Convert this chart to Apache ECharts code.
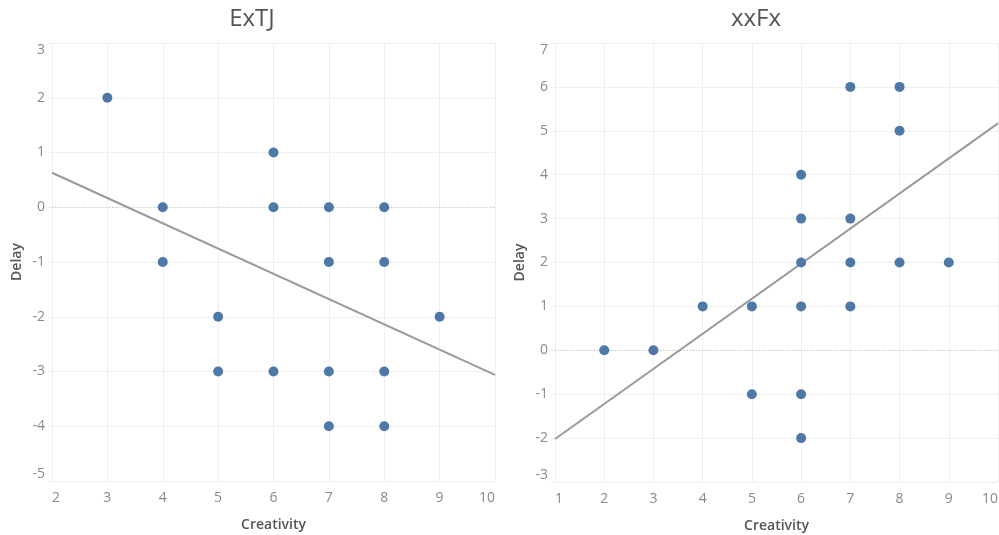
<!DOCTYPE html>
<html>
<head>
<meta charset="utf-8">
<script src="https://cdn.jsdelivr.net/npm/echarts@6/dist/echarts.min.js"></script>
<style>
html,body{margin:0;padding:0;background:#fff;}
#chart{width:999px;height:535px;}
</style>
</head>
<body>
<div id="chart"></div>
<script>
// ---- data ----
const panelTitles = ['ExTJ', 'xxFx'];
const xAxisName = 'Creativity';
const yAxisName = 'Delay';

// ExTJ panel: [Creativity, Delay]
const extjPoints = [
  [3, 2], [4, 0], [4, -1], [5, -2], [5, -3], [6, 1], [6, 0], [6, -3],
  [7, 0], [7, -1], [7, -3], [7, -4], [8, 0], [8, -1], [8, -3], [8, -4], [9, -2]
];
const extjTrend = [[2, 0.63], [10, -3.06]];

// xxFx panel: [Creativity, Delay]
const xxfxPoints = [
  [2, 0], [3, 0], [4, 1], [5, 1], [5, -1], [6, 4], [6, 3], [6, 2], [6, 1],
  [6, -1], [6, -2], [7, 6], [7, 3], [7, 2], [7, 1], [8, 6], [8, 5], [8, 2], [9, 2]
];
const xxfxTrend = [[1, -2.02], [10, 5.17]];

// axis ranges
const extjX = [2, 10];
const extjY = [-5, 3];
const xxfxX = [1, 10];
const xxfxY = [-3, 7];

// ---- chart ----
const FONT = '"Open Sans", sans-serif';
const gridColor = '#efefef';
const labelColor = '#8a8a8a';
const dotColor = '#4e79a7';

function xAxisCfg(gi, range) {
  return {
    type: 'value', gridIndex: gi, min: range[0], max: range[1], interval: 1,
    name: xAxisName, nameLocation: 'middle', nameGap: 37,
    nameTextStyle: {fontFamily: FONT, fontSize: 14, fontWeight: 600, color: '#555'},
    axisLine: {show: false},
    axisTick: {show: true, length: 5, lineStyle: {color: gridColor}},
    splitLine: {show: true, lineStyle: {color: gridColor, width: 1}},
    axisLabel: {fontFamily: FONT, fontSize: 14, color: labelColor, margin: 10,
      alignMinLabel: 'left', alignMaxLabel: 'right'}
  };
}
function yAxisCfg(gi, range) {
  return {
    type: 'value', gridIndex: gi, min: range[0], max: range[1], interval: 1,
    name: yAxisName, nameLocation: 'middle', nameGap: 28,
    nameTextStyle: {fontFamily: FONT, fontSize: 14, fontWeight: 600, color: '#555'},
    axisLine: {show: false},
    axisTick: {show: true, length: 4, lineStyle: {color: gridColor}},
    splitLine: {show: true, lineStyle: {color: gridColor, width: 1}},
    axisLabel: {fontFamily: FONT, fontSize: 14, color: labelColor, margin: 7,
      verticalAlignMinLabel: 'bottom', verticalAlignMaxLabel: 'top'}
  };
}
function zeroSeries(gi, xr) {
  return {
    type: 'line', xAxisIndex: gi, yAxisIndex: gi, silent: true, symbol: 'none',
    data: [[xr[0], 0], [xr[1], 0]],
    lineStyle: {color: '#c8c8c8', type: [1, 2], width: 1}, z: 1
  };
}

const chart = echarts.init(document.getElementById('chart'), null, {renderer: 'canvas'});
chart.setOption({
  backgroundColor: '#fff',
  animation: false,
  title: [
    {text: panelTitles[0], left: 247, top: 2, textAlign: 'center',
      textStyle: {fontFamily: FONT, fontSize: 24, fontWeight: 'normal', color: '#555'}},
    {text: panelTitles[1], left: 751, top: 2, textAlign: 'center',
      textStyle: {fontFamily: FONT, fontSize: 24, fontWeight: 'normal', color: '#555'}}
  ],
  grid: [
    {left: 52, top: 43, width: 443, height: 438, containLabel: false, outerBoundsMode: 'none'},
    {left: 555, top: 43, width: 443, height: 439, containLabel: false, outerBoundsMode: 'none'}
  ],
  xAxis: [xAxisCfg(0, extjX), xAxisCfg(1, xxfxX)],
  yAxis: [yAxisCfg(0, extjY), yAxisCfg(1, xxfxY)],
  series: [
    zeroSeries(0, extjX),
    {type: 'line', xAxisIndex: 0, yAxisIndex: 0, data: extjTrend, symbol: 'none',
      lineStyle: {color: '#9a9a9a', width: 2}, z: 2},
    {type: 'scatter', xAxisIndex: 0, yAxisIndex: 0, data: extjPoints, symbolSize: 10,
      itemStyle: {color: dotColor, opacity: 1}, z: 3},
    zeroSeries(1, xxfxX),
    {type: 'line', xAxisIndex: 1, yAxisIndex: 1, data: xxfxTrend, symbol: 'none',
      lineStyle: {color: '#9a9a9a', width: 2}, z: 2},
    {type: 'scatter', xAxisIndex: 1, yAxisIndex: 1, data: xxfxPoints, symbolSize: 10,
      itemStyle: {color: dotColor, opacity: 1}, z: 3}
  ]
});
</script>
</body>
</html>
